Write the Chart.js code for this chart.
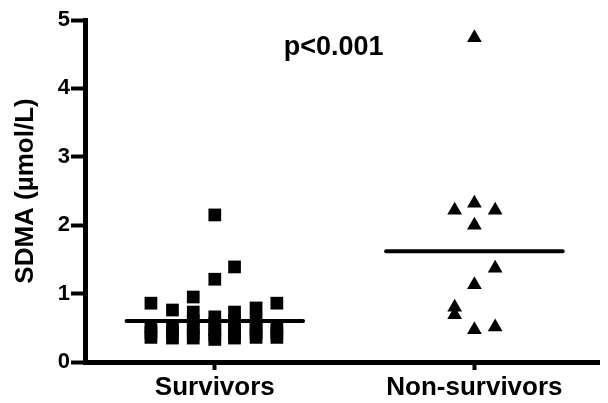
<!DOCTYPE html>
<html>
<head>
<meta charset="utf-8">
<script src="https://cdn.jsdelivr.net/npm/chart.js@4"></script>
<style>
  html, body { margin: 0; padding: 0; background: #fff; }
  #wrap { width: 608px; height: 403px; }
</style>
</head>
<body>
<div id="wrap"><canvas id="sdmaChart"></canvas></div>
<script>
// Categorias e valores
const categories = ['Survivors', 'Non-survivors'];
const yTicks = [0, 1, 2, 3, 4, 5];

// Sobreviventes: deslocamento horizontal (jitter) e SDMA (µmol/L)
const survivorsJitter = [
  -0.246, -0.246, -0.246, -0.246,
  -0.163, -0.163, -0.163, -0.163,
  -0.083, -0.083, -0.083, -0.083, -0.083, -0.083,
  0, 0, 0, 0, 0, 0, 0,
  0.076, 0.076, 0.076, 0.076, 0.076, 0.076,
  0.159, 0.159, 0.159, 0.159, 0.159,
  0.239, 0.239, 0.239, 0.239
];
const survivorsValues = [
  0.86, 0.52, 0.43, 0.36,
  0.76, 0.52, 0.43, 0.35,
  0.95, 0.73, 0.60, 0.50, 0.41, 0.35,
  2.15, 1.21, 0.66, 0.56, 0.47, 0.39, 0.33,
  1.39, 0.73, 0.60, 0.50, 0.41, 0.35,
  0.79, 0.62, 0.51, 0.43, 0.36,
  0.86, 0.52, 0.43, 0.36
];

// Não sobreviventes
const nonSurvivorsJitter = [0, -0.076, 0, 0.08, 0, 0.08, 0, -0.076, -0.076, 0, 0.08];
const nonSurvivorsValues = [4.74, 2.22, 2.32, 2.22, 2.0, 1.37, 1.13, 0.80, 0.69, 0.47, 0.51];

// Medianas de cada grupo
const medians = [0.6, 1.62];
const medianHalfWidth = 0.34;

const pValueText = 'p<0.001';

document.addEventListener('DOMContentLoaded', function() {
    const ctx = document.getElementById('sdmaChart').getContext('2d');
    const fontFamily = '"Liberation Sans", Arial, sans-serif';

    Chart.defaults.font.family = fontFamily;
    Chart.defaults.color = '#000';

    const toPoints = (center, jitter, values) =>
        values.map((v, i) => ({ x: center + jitter[i], y: v }));

    const medianLine = (center, value) => [
        { x: center - medianHalfWidth, y: value },
        { x: center + medianHalfWidth, y: value }
    ];

    // Texto do p-valor posicionado pelas escalas do gráfico
    const pValuePlugin = {
        id: 'pValue',
        afterDatasetsDraw(chart) {
            const { ctx, scales } = chart;
            const x = scales.x.getPixelForValue(1.458);
            const y = scales.y.getPixelForValue(4.59);
            ctx.save();
            ctx.font = 'bold 27px ' + fontFamily;
            ctx.fillStyle = '#000';
            ctx.textAlign = 'center';
            ctx.textBaseline = 'middle';
            ctx.fillText(pValueText, x, y);
            ctx.restore();
        }
    };

    new Chart(ctx, {
        type: 'scatter',
        data: {
            datasets: [
                {
                    label: categories[0],
                    data: toPoints(1, survivorsJitter, survivorsValues),
                    pointStyle: 'rect',
                    pointRadius: 9,
                    backgroundColor: '#000',
                    borderColor: '#000',
                    borderWidth: 0
                },
                {
                    label: categories[1],
                    data: toPoints(2, nonSurvivorsJitter, nonSurvivorsValues),
                    pointStyle: 'triangle',
                    pointRadius: 8.5,
                    backgroundColor: '#000',
                    borderColor: '#000',
                    borderWidth: 0
                },
                {
                    type: 'line',
                    label: 'median-1',
                    data: medianLine(1, medians[0]),
                    borderColor: '#000',
                    borderWidth: 4,
                    pointRadius: 0,
                    borderCapStyle: 'round'
                },
                {
                    type: 'line',
                    label: 'median-2',
                    data: medianLine(2, medians[1]),
                    borderColor: '#000',
                    borderWidth: 4,
                    pointRadius: 0,
                    borderCapStyle: 'round'
                }
            ]
        },
        options: {
            responsive: true,
            maintainAspectRatio: false,
            animation: false,
            layout: { padding: { top: 20, right: 1, left: 0, bottom: 0 } },
            plugins: {
                legend: { display: false },
                tooltip: { enabled: false }
            },
            scales: {
                x: {
                    type: 'linear',
                    min: 0.5,
                    max: 2.48,
                    afterBuildTicks: (scale) => {
                        scale.ticks = categories.map((c, i) => ({ value: i + 1 }));
                    },
                    afterFit: (scale) => { scale.height = 41; },
                    ticks: {
                        callback: (value) => categories[value - 1],
                        font: { size: 26, weight: 'bold' },
                        padding: 2,
                        maxRotation: 0
                    },
                    grid: {
                        drawOnChartArea: false,
                        tickLength: 8,
                        tickWidth: 4,
                        color: '#000'
                    },
                    border: { color: '#000', width: 5 }
                },
                y: {
                    min: 0,
                    max: 5,
                    afterBuildTicks: (scale) => {
                        scale.ticks = yTicks.map(v => ({ value: v }));
                    },
                    afterFit: (scale) => { scale.width = 85; },
                    ticks: {
                        font: { size: 22, weight: 'bold' },
                        padding: 1
                    },
                    grid: {
                        drawOnChartArea: false,
                        tickLength: 14,
                        tickWidth: 4,
                        color: '#000'
                    },
                    border: { color: '#000', width: 5 },
                    title: {
                        display: true,
                        text: 'SDMA (\u00B5mol/L)',
                        font: { size: 26, weight: 'bold' },
                        padding: { top: 10, bottom: 0 }
                    }
                }
            }
        },
        plugins: [pValuePlugin]
    });
});
</script>
</body>
</html>
